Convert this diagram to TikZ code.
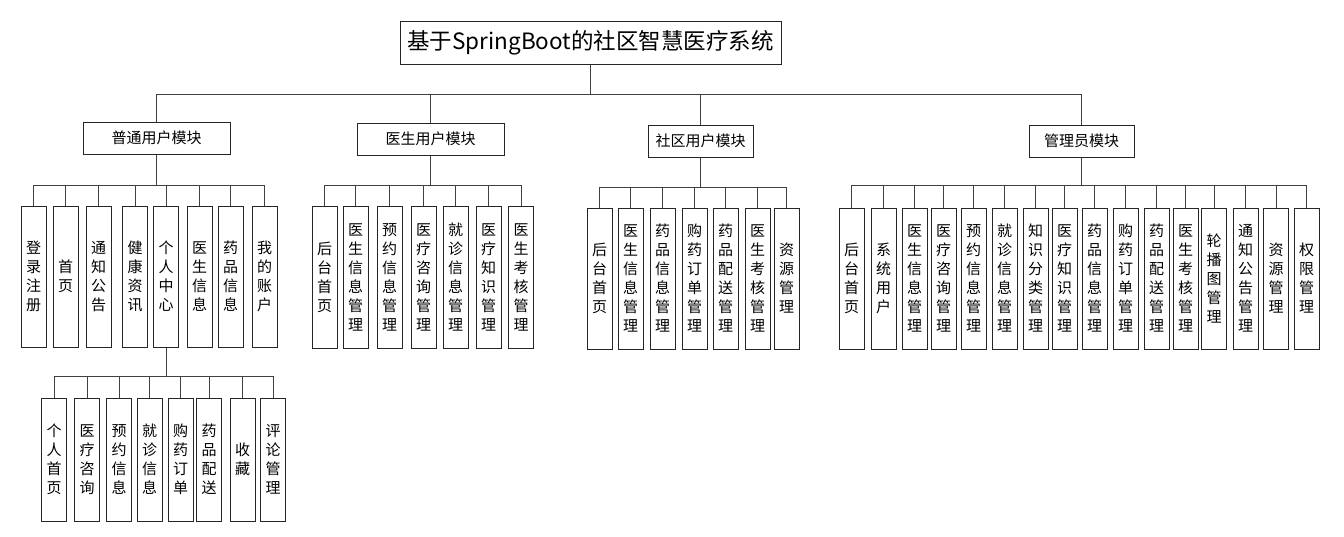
\documentclass[tikz,border=0pt]{standalone}
\usepackage{fontspec}
\setmainfont{Noto Sans CJK SC}
\begin{document}
\begin{tikzpicture}[x=1pt,y=-1pt,
  box/.style={draw=black!85,line width=1pt,inner sep=0pt,align=center},
  leaf/.style={box,minimum width=25pt,font=\fontsize{15}{19}\selectfont},
  grp/.style={box,minimum height=32pt,font=\fontsize{15}{18}\selectfont},
  conn/.style={draw=black!75,line width=1pt}]
\useasboundingbox (0,0) rectangle (1344,536);
% title
\node[box,minimum width=381pt,minimum height=43pt,font=\fontsize{22.5}{25}\selectfont] (title) at (590.5,43) {基于SpringBoot的社区智慧医疗系统};
% groups
\node[grp,minimum width=147pt] (g1) at (156.5,138) {普通用户模块};
\node[grp,minimum width=147pt] (g2) at (430.5,139) {医生用户模块};
\node[grp,minimum width=105pt] (g3) at (700.5,141) {社区用户模块};
\node[grp,minimum width=105pt] (g4) at (1081.5,141) {管理员模块};
% user leaves
\begin{scope}[every node/.style={leaf,minimum height=141pt}]
\node (u1) at (33.5,276.5) {登\\录\\注\\册};
\node (u2) at (65.5,276.5) {首\\页};
\node (u3) at (98.5,276.5) {通\\知\\公\\告};
\node (u4) at (135,276.5) {健\\康\\资\\讯};
\node (u5) at (166,276.5) {个\\人\\中\\心};
\node (u6) at (199.5,276.5) {医\\生\\信\\息};
\node (u7) at (230.5,276.5) {药\\品\\信\\息};
\node (u8) at (264.5,276.5) {我\\的\\账\\户};
\end{scope}
% personal center leaves
\begin{scope}[every node/.style={leaf,minimum height=123pt}]
\node (p1) at (54,459.5) {个\\人\\首\\页};
\node (p2) at (87,459.5) {医\\疗\\咨\\询};
\node (p3) at (119,459.5) {预\\约\\信\\息};
\node (p4) at (149.5,459.5) {就\\诊\\信\\息};
\node (p5) at (180.5,459.5) {购\\药\\订\\单};
\node (p6) at (209,459.5) {药\\品\\配\\送};
\node (p7) at (242.5,459.5) {收\\藏};
\node (p8) at (273,459.5) {评\\论\\管\\理};
\end{scope}
% doctor leaves
\begin{scope}[every node/.style={leaf,minimum height=142pt}]
\node (d1) at (324.5,277) {后\\台\\首\\页};
\node (d2) at (355.5,277) {医\\生\\信\\息\\管\\理};
\node (d3) at (389.5,277) {预\\约\\信\\息\\管\\理};
\node (d4) at (423.5,277) {医\\疗\\咨\\询\\管\\理};
\node (d5) at (455.5,277) {就\\诊\\信\\息\\管\\理};
\node (d6) at (488.5,277) {医\\疗\\知\\识\\管\\理};
\node (d7) at (521,277) {医\\生\\考\\核\\管\\理};
\end{scope}
% community leaves
\begin{scope}[every node/.style={leaf,minimum height=141pt}]
\node (c1) at (599.5,278.5) {后\\台\\首\\页};
\node (c2) at (630.5,278.5) {医\\生\\信\\息\\管\\理};
\node (c3) at (662.5,278.5) {药\\品\\信\\息\\管\\理};
\node (c4) at (694.5,278.5) {购\\药\\订\\单\\管\\理};
\node (c5) at (725.5,278.5) {药\\品\\配\\送\\管\\理};
\node (c6) at (757.5,278.5) {医\\生\\考\\核\\管\\理};
\node (c7) at (786.5,278.5) {资\\源\\管\\理};
\end{scope}
% admin leaves
\begin{scope}[every node/.style={leaf,minimum height=141pt}]
\node (a1) at (851.5,278.5) {后\\台\\首\\页};
\node (a2) at (883.5,278.5) {系\\统\\用\\户};
\node (a3) at (914.5,278.5) {医\\生\\信\\息\\管\\理};
\node (a4) at (943.5,278.5) {医\\疗\\咨\\询\\管\\理};
\node (a5) at (973.5,278.5) {预\\约\\信\\息\\管\\理};
\node (a6) at (1004.5,278.5) {就\\诊\\信\\息\\管\\理};
\node (a7) at (1035.5,278.5) {知\\识\\分\\类\\管\\理};
\node (a8) at (1064.5,278.5) {医\\疗\\知\\识\\管\\理};
\node (a9) at (1094.5,278.5) {药\\品\\信\\息\\管\\理};
\node (a10) at (1125.5,278.5) {购\\药\\订\\单\\管\\理};
\node (a11) at (1156.5,278.5) {药\\品\\配\\送\\管\\理};
\node (a12) at (1185.5,278.5) {医\\生\\考\\核\\管\\理};
\node (a13) at (1214,278.5) {轮\\播\\图\\管\\理};
\node (a14) at (1245.5,278.5) {通\\知\\公\\告\\管\\理};
\node (a15) at (1276,278.5) {资\\源\\管\\理};
\node (a16) at (1306.5,278.5) {权\\限\\管\\理};
\end{scope}
% buses
\coordinate (b0) at (590.5,94);
\coordinate (b1) at (156.5,185);
\coordinate (b2) at (430.5,185);
\coordinate (b3) at (700.5,187);
\coordinate (b4) at (1081.5,185);
\coordinate (b5) at (166,376);
\draw[conn] (title.south) -- (b0);
\foreach \n in {g1,g2,g3,g4} \draw[conn] (b0) -| (\n.north);
\draw[conn] (g1.south) -- (b1);
\foreach \n in {u1,u2,u3,u4,u5,u6,u7,u8} \draw[conn] (b1) -| (\n.north);
\draw[conn] (u5.south) -- (b5);
\foreach \n in {p1,p2,p3,p4,p5,p6,p7,p8} \draw[conn] (b5) -| (\n.north);
\draw[conn] (g2.south) -- (b2);
\foreach \n in {d1,d2,d3,d4,d5,d6,d7} \draw[conn] (b2) -| (\n.north);
\draw[conn] (g3.south) -- (b3);
\foreach \n in {c1,c2,c3,c4,c5,c6,c7} \draw[conn] (b3) -| (\n.north);
\draw[conn] (g4.south) -- (b4);
\foreach \n in {a1,a2,a3,a4,a5,a6,a7,a8,a9,a10,a11,a12,a13,a14,a15,a16} \draw[conn] (b4) -| (\n.north);
\end{tikzpicture}
\end{document}
